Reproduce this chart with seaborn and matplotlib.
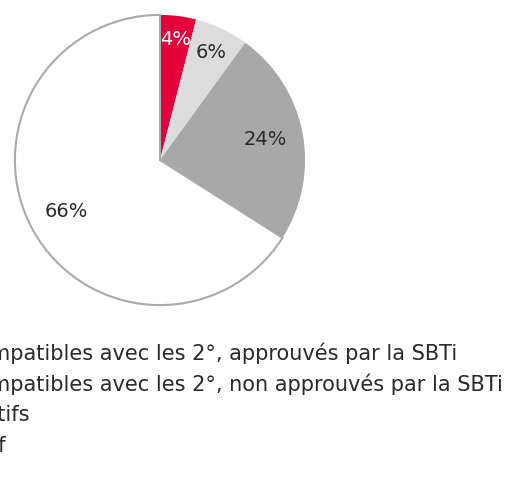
import matplotlib
matplotlib.use("Agg")
import matplotlib.pyplot as plt
import seaborn as sns
import numpy as np

# data
categories = [
    "Objectifs compatibles avec les 2°, approuvés par la SBTi",
    "Objectifs compatibles avec les 2°, non approuvés par la SBTi",
    "Autres objectifs",
    "Pas d'objectif",
]
shares = [4, 6, 24, 66]
colors = ["#E4003A", "#DCDCDC", "#A8A8A8", "#FFFFFF"]
label_colors = ["white", "#2a2a2a", "#2a2a2a", "#2a2a2a"]
label_radius = [0.84, 0.82, 0.74, 0.74]

sns.set_theme(style="white")
plt.rcParams["font.family"] = ["DejaVu Sans"]

W, H = 508, 480
fig = plt.figure(figsize=(W / 100, H / 100), dpi=100)

# pie area: centre (160,160) px, radius 148 px
cx, cy, r = 160, 160, 148
ax = fig.add_axes([(cx - r) / W, (H - cy - r) / H, 2 * r / W, 2 * r / H])

wedges, texts = ax.pie(
    shares, colors=colors, startangle=90, counterclock=False, radius=1,
    wedgeprops=dict(linewidth=0),
)
# only the white slice carries the grey outline
wedges[3].set_edgecolor("#AAAAAA")
wedges[3].set_linewidth(1.5)

# percentage labels
start = 90.0
for val, rad, col in zip(shares, label_radius, label_colors):
    span = val / sum(shares) * 360
    mid = np.deg2rad(start - span / 2)
    ax.text(rad * np.cos(mid), rad * np.sin(mid), f"{val}%",
            ha="center", va="center", fontsize=14, color=col)
    start -= span

ax.set_xlim(-1.02, 1.02)
ax.set_ylim(-1.02, 1.02)
ax.set_aspect("equal")
ax.axis("off")

# legend text, running off the left edge like the source
rows_y = [353, 384, 415, 446]
leg = []
for txt, y in zip(categories, rows_y):
    leg.append(fig.text(0, 1 - y / H, txt, ha="left", va="center",
                        fontsize=15, color="#2a2a2a"))

# shift so that line 1 ends near x=457px
fig.canvas.draw()
bb = leg[0].get_window_extent()
shift = (457 - bb.x1) / W
for t in leg:
    t.set_x(shift)

fig.savefig("out.png", dpi=100)
